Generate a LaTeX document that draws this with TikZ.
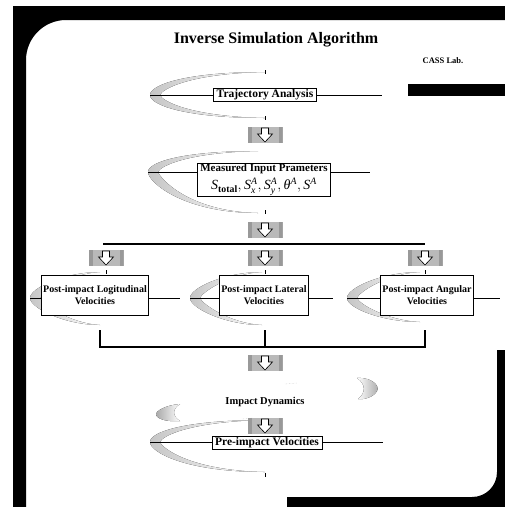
\documentclass[tikz,border=0pt]{standalone}
\usepackage{fontspec}
\setmainfont{Liberation Serif}
\usepackage{tikz}
\usetikzlibrary{positioning}

\tikzset{
  stagebox/.style={draw, line width=0.7pt, fill=white, align=center,
    font=\bfseries\fontsize{11.5}{13}\selectfont, inner xsep=3pt, inner ysep=1.5pt},
  velbox/.style={draw, line width=0.7pt, fill=white, align=center,
    font=\bfseries\fontsize{10}{12.5}\selectfont, inner xsep=2pt, minimum height=40pt},
  flowline/.style={line width=0.6pt},
  busline/.style={line width=1.6pt},
  tickmark/.style={line width=0.6pt},
  swoosh/.style={left color=gray!45, right color=white, draw=none},
  arrowbox/.style={fill=gray!55, minimum width=35pt, minimum height=16pt, inner sep=0pt,
    path picture={
      \fill[gray!80] (path picture bounding box.north west) rectangle ([xshift=4pt]path picture bounding box.south west);
      \fill[gray!80] (path picture bounding box.north east) rectangle ([xshift=-4pt]path picture bounding box.south east);
      \draw[fill=white, line width=0.6pt]
        ([shift={(-3.5pt,7pt)}]path picture bounding box.center) -- ++(7pt,0pt) -- ++(0pt,-6pt)
        -- ++(4pt,0pt) -- ++(-7.5pt,-8pt) -- ++(-7.5pt,8pt) -- ++(4pt,0pt) -- cycle;
    }},
}

\begin{document}
\begin{tikzpicture}[x=1pt, y=-1pt]
\useasboundingbox (0,0) rectangle (505,507);

% Frame
\fill (13,507) -- (13,6) -- (505,6) -- (505,20) -- (66,20)
  .. controls (44,20) and (26,38) .. (26,60) -- (26,507) -- cycle;
\fill (287,507) -- (505,507) -- (505,350) -- (497,350) -- (497,472)
  .. controls (497,486) and (486,497) .. (472,497) -- (287,497) -- cycle;
\fill (408,84) rectangle (505,96);

% Title
\node[font=\bfseries\fontsize{16}{19}\selectfont] (title) at (276,40) {Inverse Simulation Algorithm};
\node[font=\bfseries\fontsize{8.5}{10}\selectfont] (lab) at (443,61) {CASS Lab.};

% Shaded swooshes
\foreach \tx/\cy/\rx/\ty/\by in {150/95/265/72/118, 148/172/258/151/213,
    30/298/100/272/325, 190/298/262/272/325, 347/298/420/272/322, 150/442/265/420/472}
  \fill[swoosh] (\rx,\ty) .. controls ({\tx+35},\ty) and (\tx,{\cy-10}) .. (\tx,\cy)
     .. controls (\tx,{\cy+10}) and ({\tx+35},\by) .. (\rx,\by)
     .. controls ({\tx+40},{\by-1.5}) and ({\tx+12},{\cy+6}) .. ({\tx+10},\cy)
     .. controls ({\tx+12},{\cy-6}) and ({\tx+40},{\ty+1.5}) .. (\rx,\ty) -- cycle;

% Blobs round Impact Dynamics
\fill[left color=white, right color=gray!70] (357,378) .. controls (372,377) and (380,386) .. (377,391)
  .. controls (374,397) and (364,400) .. (358,399) .. controls (366,393) and (366,384) .. (357,378) -- cycle;
\fill[left color=gray!70, right color=white] (180,404) .. controls (166,405) and (155,411) .. (156,415)
  .. controls (158,420) and (170,422) .. (180,421) .. controls (172,416) and (172,409) .. (180,404) -- cycle;
\draw[densely dotted, gray!50] (285,384) -- (297,383);
\draw[densely dotted, gray!50] (242,419) -- (253,418);

% Small ticks
\foreach \x/\y in {265/72, 265/118, 265/212, 106/272, 265/272, 425/272, 265/475}
  \draw[tickmark] (\x,{\y-2}) -- (\x,{\y+2});

% Trajectory Analysis
\coordinate (traj-w) at (150,95);
\coordinate (traj-e) at (382,95);
\draw[flowline] (traj-w) -- (traj-e);
\node[stagebox] (traj) at (265,95) {Trajectory Analysis};

\node[arrowbox] (arr1) at (265,135) {};

% Measured input parameters
\coordinate (meas-w) at (148,172);
\coordinate (meas-e) at (370,172);
\draw[flowline] (meas-w) -- (meas-e);
\node[stagebox, font=\bfseries\fontsize{11}{18}\selectfont, inner ysep=1pt] (meas) at (264,180)
  {Measured Input Prameters\\ {\fontsize{14}{15}\selectfont\mdseries
   $\mathit{S}_{\mathbf{total}}, \mathit{S}^{\mathit{A}}_{\mathit{x}}, \mathit{S}^{\mathit{A}}_{\mathit{y}},
    \mbox{\itshape θ}^{\mathit{A}}, \mathit{S}^{\mathit{A}}$}};

\node[arrowbox] (arr2) at (265,230) {};

% Split bar
\coordinate (bus-w) at (103,244);
\coordinate (bus-e) at (425,244);
\draw[busline] (bus-w) -- (bus-e);

\node[arrowbox] (arr-lon) at (106,258) {};
\node[arrowbox] (arr-lat) at (265,258) {};
\node[arrowbox] (arr-ang) at (425,258) {};

% Post-impact velocities
\coordinate (lon-w) at (30,298);
\coordinate (lon-e) at (180,298);
\coordinate (lat-w) at (190,298);
\coordinate (lat-e) at (333,298);
\coordinate (ang-w) at (347,298);
\coordinate (ang-e) at (500,298);
\draw[flowline] (lon-w) -- (lon-e);
\draw[flowline] (lat-w) -- (lat-e);
\draw[flowline] (ang-w) -- (ang-e);
\node[velbox] (lon) at (95,295) {Post-impact Logitudinal\\Velocities};
\node[velbox] (lat) at (264,295) {Post-impact Lateral\\Velocities};
\node[velbox] (ang) at (427,295) {Post-impact Angular\\Velocities};

% Join bracket
\coordinate (join-lt) at (100,330);
\coordinate (join-l) at (100,347);
\coordinate (join-ct) at (265,330);
\coordinate (join-c) at (265,347);
\coordinate (join-rt) at (425,330);
\coordinate (join-r) at (425,347);
\draw[busline] (join-lt) -- (join-l) -- (join-r) -- (join-rt);
\draw[busline] (join-ct) -- (join-c);

\node[arrowbox] (arr4) at (265,363) {};
\node[font=\bfseries\fontsize{10.5}{12}\selectfont] (dyn) at (265,402) {Impact Dynamics};
\node[arrowbox] (arr5) at (265,426) {};

% Pre-impact velocities
\coordinate (pre-w) at (150,442);
\coordinate (pre-e) at (383,442);
\draw[flowline] (pre-w) -- (pre-e);
\node[stagebox] (pre) at (267,443) {Pre-impact Velocities};

\end{tikzpicture}
\end{document}
